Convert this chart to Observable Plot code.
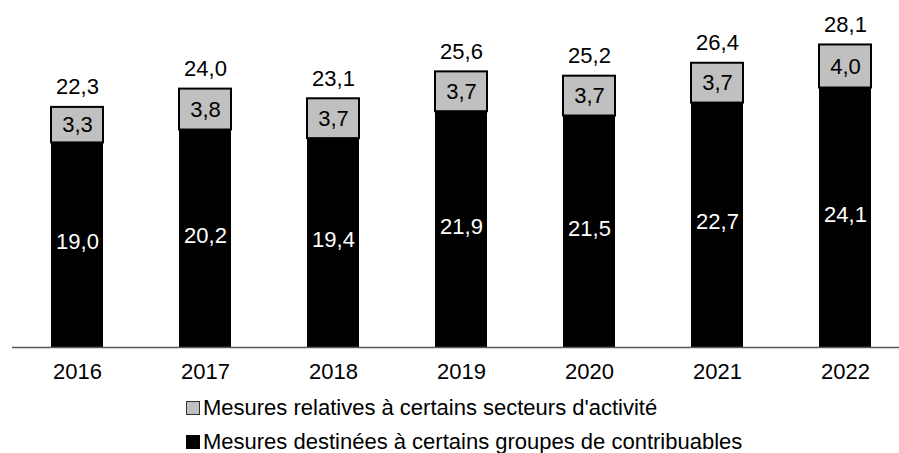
<!DOCTYPE html>
<html>
<head>
<meta charset="utf-8">
<script src="https://cdn.jsdelivr.net/npm/d3@7"></script>
<script src="https://cdn.jsdelivr.net/npm/@observablehq/plot@0.6"></script>
<style>
  body { margin: 0; background: #fff; font-family: "Liberation Sans", Arial, sans-serif; }
  #wrap { position: relative; width: 899px; height: 453px; }
  #legend { position: absolute; left: 186px; top: 391px; font-size: 22px; color: #000; }
  .item { display: flex; align-items: center; height: 34px; }
  .sw { width: 12px; height: 12px; border: 1.5px solid #000; margin-right: 3px; }
</style>
</head>
<body>
<div id="wrap"><div id="chart"></div>
<div id="legend"></div></div>
<script>
const years = ["2016", "2017", "2018", "2019", "2020", "2021", "2022"];
const groupes = [19.0, 20.2, 19.4, 21.9, 21.5, 22.7, 24.1];
const secteurs = [3.3, 3.8, 3.7, 3.7, 3.7, 3.7, 4.0];
const totals = [22.3, 24.0, 23.1, 25.6, 25.2, 26.4, 28.1];
const seriesNames = ["Mesures relatives à certains secteurs d'activité", "Mesures destinées à certains groupes de contribuables"];
const seriesColors = ["#c0c0c0", "#000000"];

const fmt = v => v.toFixed(1).replace(".", ",");
const rows = years.map((y, i) => ({year: y, g: groupes[i], s: secteurs[i], t: totals[i]}));

const chart = Plot.plot({
  width: 899,
  height: 390,
  marginTop: 24,
  marginBottom: 43,
  marginLeft: 12,
  marginRight: 0,
  style: {fontFamily: "'Liberation Sans', Arial, sans-serif", background: "#fff"},
  x: {domain: years, range: [11, 911], paddingInner: 0.59, paddingOuter: 0.295, label: null},
  y: {domain: [0, 30], axis: null},
  marks: [
    Plot.barY(rows, {x: "year", y1: 0, y2: "g", fill: seriesColors[1], inset: 0}),
    Plot.barY(rows, {x: "year", y1: "g", y2: d => d.g + d.s, fill: seriesColors[0], stroke: "#000", strokeWidth: 2, inset: 0}),
    Plot.ruleY([0], {stroke: "#595959", strokeWidth: 1.5}),
    Plot.axisX({tickSize: 0, tickPadding: 16, fontSize: 22, fill: "#000", label: null}),
    Plot.text(rows, {x: "year", y: d => d.g / 2, text: d => fmt(d.g), fill: "#fff", fontSize: 22, dy: -3}),
    Plot.text(rows, {x: "year", y: d => d.g + d.s / 2, text: d => fmt(d.s), fill: "#000", fontSize: 22}),
    Plot.text(rows, {x: "year", y: "t", text: d => fmt(d.t), fill: "#000", fontSize: 22, dy: -20})
  ]
});
document.getElementById("chart").appendChild(chart);

const legend = document.getElementById("legend");
seriesNames.forEach((n, i) => {
  const it = document.createElement("div");
  it.className = "item";
  const sw = document.createElement("span");
  sw.className = "sw";
  sw.style.background = seriesColors[i];
  if (i === 0) sw.style.borderColor = "#333";
  const tx = document.createElement("span");
  tx.textContent = n;
  it.appendChild(sw);
  it.appendChild(tx);
  legend.appendChild(it);
});
</script>
</body>
</html>
